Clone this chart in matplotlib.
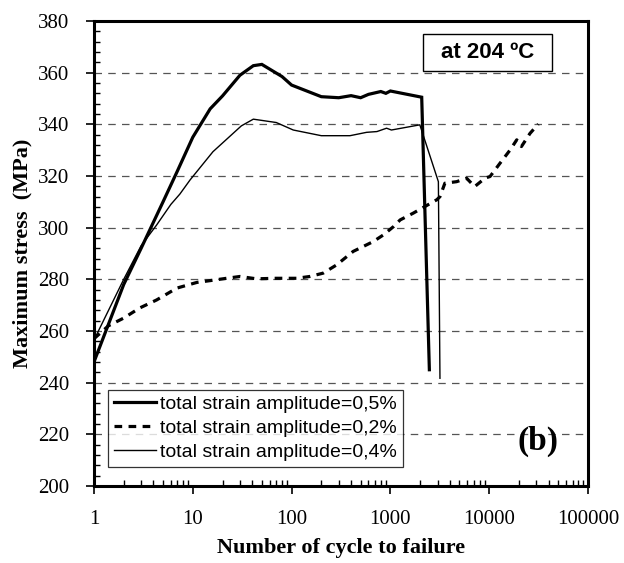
import matplotlib
matplotlib.use("Agg")
import matplotlib.pyplot as plt
from matplotlib.ticker import FixedLocator, NullFormatter, MultipleLocator
from matplotlib.patches import Rectangle

# Data
x_05 = [1, 2, 3, 5, 7, 10, 15, 20, 30, 41, 50, 80, 100, 200, 300, 400, 500, 600, 800, 900, 1000, 2075, 2480]
y_05 = [248, 278, 292, 310, 322, 335, 346, 351, 359, 362.7, 363.2, 358.5, 355.2, 350.7, 350.3, 351.1, 350.3, 351.6, 352.7, 352, 352.9, 350.5, 245]

x_02 = [1, 1.4, 2, 2.9, 4.3, 6.9, 11, 15, 22, 30, 44, 70, 112, 153, 209, 286, 420, 670, 850, 1075, 1256, 1700, 2950, 3175,
        3560, 4680, 5920, 7130, 9100, 10200, 12900, 16300, 19000, 21200, 25900, 31400]
y_02 = [257, 262, 265, 268.9, 272, 276.6, 278.8, 279.5, 280.4, 281.1, 280.2, 280.4, 280.4, 281.1, 282.4, 285.6, 290.8, 294.6,
        297.2, 300.4, 303, 305.6, 310.8, 312, 317.2, 317.8, 319.1, 315.9, 319.2, 319.8, 325, 330.1, 334, 331.4, 336.5, 340.1]

x_04 = [1, 2, 3, 4.3, 6, 7.4, 9.4, 16, 31, 41, 70, 104, 200, 390, 574, 731, 915, 1024, 1986, 3060, 3175]
y_04 = [256.5, 280, 293, 301, 309, 313, 318.5, 329.4, 339.4, 342, 340.7, 337.8, 335.6, 335.6, 336.9, 337.2, 338.5, 337.8, 339.8, 317.8, 241.7]

labels = ["total strain amplitude=0,5%", "total strain amplitude=0,2%", "total strain amplitude=0,4%"]
x_ticks = [1, 10, 100, 1000, 10000, 100000]
x_ticklabels = ["1", "10", "100", "1000", "10000", "100000"]
y_ticks = [200, 220, 240, 260, 280, 300, 320, 340, 360, 380]

fig = plt.figure(figsize=(6.24, 5.63), dpi=100)
ax = fig.add_axes([0.1506, 0.1368, 0.7917, 0.8259])

ax.plot(x_05, y_05, color="black", lw=2.3, label=labels[0], solid_joinstyle="miter")
ax.plot(x_02, y_02, color="black", lw=2.3, ls=(0, (2.4, 2.0)), label=labels[1])
ax.plot(x_04, y_04, color="black", lw=1.0, label=labels[2])

ax.set_xscale("log")
ax.set_xlim(1, 100000)
ax.set_ylim(200, 380)

ax.xaxis.set_major_locator(FixedLocator(x_ticks))
ax.set_xticklabels(x_ticklabels)
minors = [m * 10 ** e for e in range(0, 5) for m in range(2, 10)]
ax.xaxis.set_minor_locator(FixedLocator(minors))
ax.xaxis.set_minor_formatter(NullFormatter())
ax.yaxis.set_major_locator(FixedLocator(y_ticks))
ax.yaxis.set_minor_locator(MultipleLocator(4))

for lab in ax.get_xticklabels() + ax.get_yticklabels():
    lab.set_fontfamily("Liberation Serif")
    lab.set_fontsize(15)

ax.tick_params(axis="both", which="major", direction="out", length=6, width=1.2)
ax.tick_params(axis="both", which="minor", direction="in", length=4, width=1.0)
ax.tick_params(axis="x", which="major", pad=11)
ax.tick_params(axis="y", which="major", pad=12)

for s in ax.spines.values():
    s.set_linewidth(2.2)

for yv in y_ticks[1:-1]:
    ax.axhline(yv, color="#555555", lw=0.9, ls=(0, (6, 5)), zorder=0)

ax.set_xlabel("Number of cycle to failure", fontfamily="Liberation Serif", fontweight="bold", fontsize=16, labelpad=7)
ax.set_ylabel("Maximum stress  (MPa)", fontfamily="Liberation Serif", fontweight="bold", fontsize=16, labelpad=3.5)

leg = ax.legend(loc="lower left", bbox_to_anchor=(0.028, 0.041), prop={"family": "Liberation Sans", "size": 14},
                frameon=True, fancybox=False, edgecolor="black", handlelength=2.2, handletextpad=0.2,
                borderpad=0.3, labelspacing=0.33, borderaxespad=0)
leg.get_frame().set_linewidth(0.9)

ax.text(0.899, 0.095, "(b)", transform=ax.transAxes, fontfamily="Liberation Serif", fontweight="bold",
        fontsize=24, ha="center", va="center")
ax.add_patch(Rectangle((0.666, 0.8925), 0.261, 0.0796, transform=ax.transAxes, fc="white", ec="black", lw=1.0, zorder=5))
ax.text(0.797, 0.932, "at 204 ºC", transform=ax.transAxes, fontfamily="Liberation Sans", fontweight="bold",
        fontsize=16, ha="center", va="center", zorder=6)

fig.savefig("out.png", dpi=100)
